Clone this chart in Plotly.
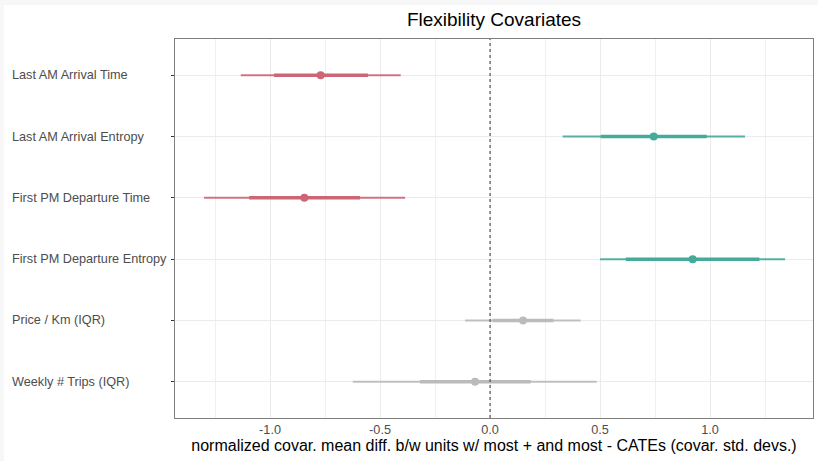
import plotly.graph_objects as go

categories = ["Last AM Arrival Time", "Last AM Arrival Entropy", "First PM Departure Time",
              "First PM Departure Entropy", "Price / Km (IQR)", "Weekly # Trips (IQR)"]
estimate = [-0.77, 0.744, -0.844, 0.921, 0.150, -0.068]
thick_lo = [-0.982, 0.503, -1.095, 0.617, 0.012, -0.318]
thick_hi = [-0.555, 0.985, -0.591, 1.224, 0.288, 0.185]
thin_lo = [-1.133, 0.330, -1.300, 0.500, -0.114, -0.624]
thin_hi = [-0.406, 1.159, -0.386, 1.341, 0.412, 0.485]
direction = ["neg", "pos", "neg", "pos", "none", "none"]
colors = {"neg": "#CC6677", "pos": "#44AA99", "none": "#BBBBBB"}

fig = go.Figure()
for i, c in enumerate(categories):
    col = colors[direction[i]]
    fig.add_trace(go.Scatter(x=[thin_lo[i], thin_hi[i]], y=[c, c], mode="lines",
                             line=dict(color=col, width=2), opacity=0.9,
                             showlegend=False, hoverinfo="skip"))
    fig.add_trace(go.Scatter(x=[thick_lo[i], thick_hi[i]], y=[c, c], mode="lines",
                             line=dict(color=col, width=3.5),
                             showlegend=False, hoverinfo="skip"))
    fig.add_trace(go.Scatter(x=[estimate[i]], y=[c], mode="markers",
                             marker=dict(color=col, size=8),
                             showlegend=False))

L, R, T, B = 175, 5, 39, 43
W, H = 818, 461
pw, ph = W - L - R, H - T - B

fig.add_shape(type="line", xref="x", yref="paper", x0=0, x1=0, y0=0, y1=1,
              line=dict(color="#444444", width=1.1, dash="3px,3px"))

# light grey outer frame strips (top and left)
fig.add_shape(type="rect", xref="paper", yref="paper", layer="below",
              x0=-L / pw, x1=(W - L) / pw, y0=(ph + T - 5) / ph, y1=(ph + T) / ph,
              fillcolor="#f7f7f7", line=dict(width=0))
fig.add_shape(type="rect", xref="paper", yref="paper", layer="below",
              x0=-L / pw, x1=(4 - L) / pw, y0=-B / ph, y1=(ph + T) / ph,
              fillcolor="#f7f7f7", line=dict(width=0))

for c in categories:
    fig.add_annotation(text=c, xref="paper", yref="y", x=(10 - L) / pw, y=c,
                       xanchor="left", yanchor="middle", showarrow=False,
                       font=dict(family="Liberation Sans, Arial, sans-serif", size=12.7, color="#4d4d4d"))

fig.update_layout(
    width=W, height=H,
    margin=dict(l=L, r=R, t=T, b=B),
    paper_bgcolor="white", plot_bgcolor="white",
    font=dict(family="Liberation Sans, Arial, sans-serif"),
    title=dict(text="Flexibility Covariates", x=(L + pw / 2) / W, xanchor="center",
               y=1 - 19 / H, yanchor="middle",
               font=dict(size=19, color="black")),
    xaxis=dict(range=[-1.432, 1.468], tickvals=[-1.0, -0.5, 0.0, 0.5, 1.0],
               ticktext=["-1.0", "-0.5", "0.0", "0.5", "1.0"],
               showgrid=True, gridcolor="#ebebeb", gridwidth=1.1,
               minor=dict(tickvals=[-1.25, -0.75, -0.25, 0.25, 0.75, 1.25],
                          showgrid=True, gridcolor="#f0f0f0", gridwidth=0.8),
               zeroline=False, showline=True, mirror=True, linecolor="#7f7f7f", linewidth=1.2,
               ticks="", tickfont=dict(size=12.7, color="#4d4d4d"),
               title=dict(text="normalized covar. mean diff. b/w units w/ most + and most - CATEs (covar. std. devs.)",
                          font=dict(size=16, color="black"), standoff=2)),
    yaxis=dict(type="category", categoryorder="array", categoryarray=categories,
               range=[5.59, -0.59], showgrid=True, gridcolor="#ebebeb", gridwidth=1.1,
               zeroline=False, showline=True, mirror=True, linecolor="#7f7f7f", linewidth=1.2,
               ticks="outside", ticklen=3, tickcolor="#333333", tickwidth=1.1,
               showticklabels=False),
)

fig.write_html("out.html")
